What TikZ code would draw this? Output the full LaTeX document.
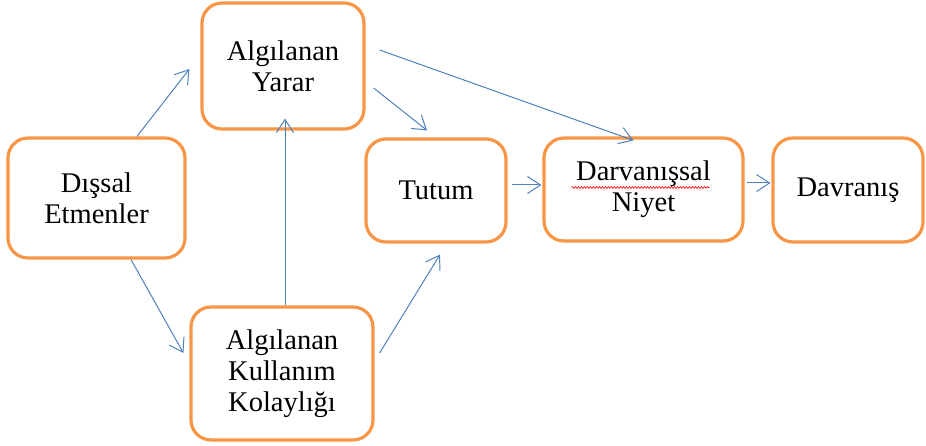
\documentclass[tikz,border=0pt]{standalone}
\usepackage{fontspec}
\setmainfont{Liberation Serif}
\usetikzlibrary{arrows.meta, decorations.pathmorphing}
\definecolor{kutu}{HTML}{F79646}
\definecolor{ok}{HTML}{4F81BD}

\begin{document}
\begin{tikzpicture}[x=1pt, y=1pt,
    kutu/.style={draw=kutu, line width=3.2pt, rounded corners=20pt, fill=white, align=center,
        font=\fontsize{28.5}{31}\selectfont, inner sep=0pt},
    ok/.style={draw=ok, line width=1pt, -{Straight Barb[length=13pt, width=17pt]}}
]
    \useasboundingbox (0,0) rectangle (926,445);
    \node[kutu, minimum width=177pt, minimum height=120pt] (dis) at (96.5,247) {Dışsal\\Etmenler};
    \node[kutu, minimum width=162pt, minimum height=126pt] (yar) at (283,379) {Algılanan\\Yarar};
    \node[kutu, minimum width=182pt, minimum height=133pt] (kol) at (282,71.5) {Algılanan\\Kullanım\\Kolaylığı};
    \node[kutu, minimum width=140pt, minimum height=103pt] (tut) at (436,254.5) {Tutum};
    \node[kutu, minimum width=199pt, minimum height=103pt] (niy) at (643.5,255.5) {Darvanışsal\\Niyet};
    \node[kutu, minimum width=150pt, minimum height=104pt] (dav) at (848,255) {Davranış};
    \draw[red, line width=0.6pt, decorate, decoration={snake, amplitude=0.9pt, segment length=3pt}]
        ([shift={(-72pt,2pt)}]niy.center) -- ([shift={(66pt,2pt)}]niy.center);
    \draw[ok] ([xshift=40.5pt]dis.north) -- ([shift={(-11pt,-3pt)}]yar.west);
    \draw[ok] ([xshift=34.5pt]dis.south) -- ([shift={(-6pt,20.5pt)}]kol.west);
    \draw[ok] ([xshift=3pt]kol.north) -- ([shift={(2pt,12pt)}]yar.south);
    \draw[ok] ([shift={(5pt,20.5pt)}]kol.east) -- ([shift={(4pt,-11pt)}]tut.south);
    \draw[ok] ([shift={(8pt,-22pt)}]yar.east) -- ([shift={(-9pt,7pt)}]tut.north);
    \draw[ok] ([shift={(14pt,16pt)}]yar.east) -- ([shift={(-10pt,-4pt)}]niy.north);
    \draw[ok] ([shift={(4pt,5.5pt)}]tut.east) -- ([shift={(-1pt,4.5pt)}]niy.west);
    \draw[ok] ([shift={(2pt,6.5pt)}]niy.east) -- ([shift={(-1pt,7pt)}]dav.west);
\end{tikzpicture}
\end{document}
